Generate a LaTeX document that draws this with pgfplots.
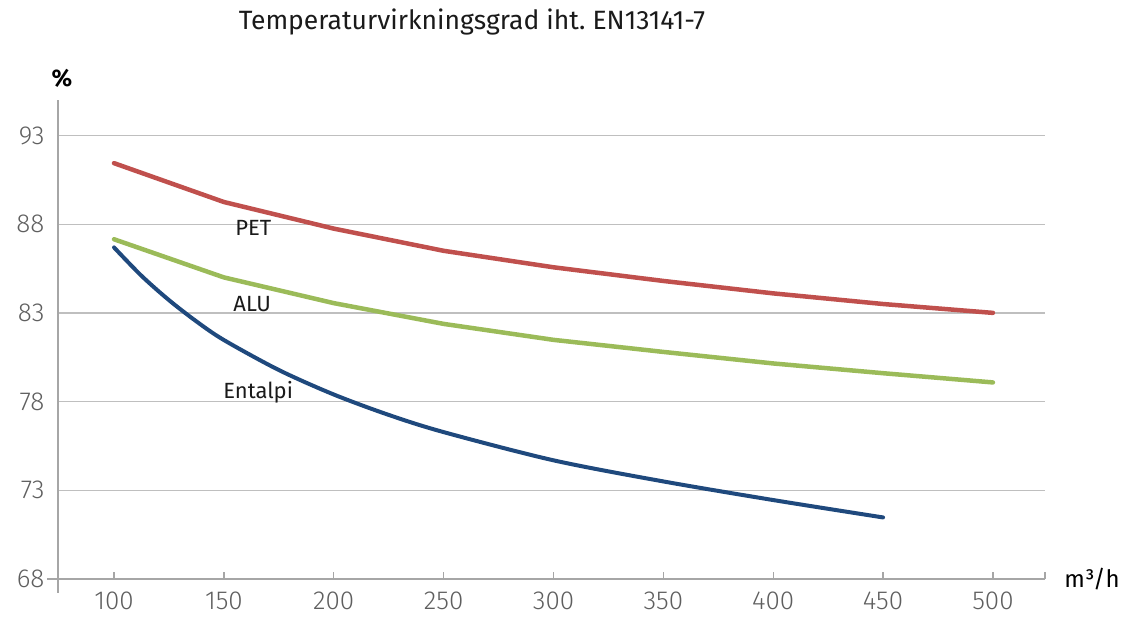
\documentclass[border=0pt]{standalone}
\usepackage{fontspec}
\setmainfont{Fira Sans}
\newfontfamily\ticklight{Fira Sans Light}
\usepackage{pgfplots}
\pgfplotsset{compat=1.18}
\definecolor{petred}{HTML}{C0504D}
\definecolor{alugreen}{HTML}{9BBB59}
\definecolor{entblue}{HTML}{1F497D}
\definecolor{gridgray}{HTML}{BFBFBF}
\definecolor{axgray}{HTML}{A6A6A6}
\definecolor{labgray}{HTML}{5F5F5F}
\definecolor{txt}{HTML}{1A1A1A}
\begin{document}
\begin{tikzpicture}
\useasboundingbox (-58pt,-37pt) rectangle (1069pt,579pt);
\begin{axis}[
  at={(0pt,0pt)}, anchor=south west,
  scale only axis, width=987pt, height=479pt,
  xmin=74.5, xmax=523.7, ymin=68, ymax=95,
  axis x line=bottom, axis y line=left,
  axis line style={-, axgray, line width=1.3pt},
  xtick={100,150,...,500},
  extra x ticks={523.7}, extra x tick labels={},
  ytick={68,73,78,83,88,93},
  ymajorgrids,
  grid style={gridgray, line width=1.3pt},
  tick align=inside,
  major tick length=7pt,
  xtick style={axgray, line width=1.3pt},
  ytick style={draw=none},
  /pgf/number format/assume math mode=true,
  /pgf/number format/set thousands separator={},
  xticklabel style={font=\ticklight\fontsize{26}{30}\selectfont, text=labgray, yshift=-9pt},
  yticklabel style={font=\ticklight\fontsize{26}{30}\selectfont, text=labgray, xshift=-10pt},
  clip=false,
]
\addplot[petred, line width=4.5pt, line join=round, line cap=round] coordinates {
(100,91.44) (150,89.25) (200,87.75) (250,86.5) (300,85.57) (350,84.8) (400,84.1) (450,83.5) (500,83.0)};
\addplot[alugreen, line width=4.5pt, line join=round, line cap=round] coordinates {
(100,87.15) (150,85.0) (200,83.55) (250,82.38) (300,81.48) (350,80.8) (400,80.15) (450,79.6) (500,79.08)};
\addplot[entblue, line width=4pt, line join=round, line cap=round, smooth] coordinates {
(100,86.69) (112.5,85.09) (125,83.72) (137.5,82.52) (150,81.47) (175,79.78) (200,78.4) (225,77.25) (250,76.28) (300,74.69) (350,73.5) (400,72.45) (450,71.47)};
\draw[axgray, line width=1.3pt] (axis cs:74.5,68) -- ++(-11pt,0pt);
\draw[axgray, line width=1.3pt] (axis cs:74.5,68) -- ++(0pt,-14pt);
\node[font=\fontsize{22}{26}\selectfont, text=txt] at (axis cs:163.4,87.8) {PET};
\node[font=\fontsize{22}{26}\selectfont, text=txt] at (axis cs:162.9,83.5) {ALU};
\node[font=\fontsize{22}{26}\selectfont, text=txt] at (axis cs:165.6,78.5) {Entalpi};
\end{axis}
\node[font=\fontsize{26.5}{30}\selectfont, text=txt] at (414pt,557pt) {Temperaturvirkningsgrad iht.\ EN13141-7};
\node[font=\fontsize{24}{28}\selectfont\bfseries, text=black] at (4pt,501pt) {\%};
\node[font=\fontsize{24}{28}\selectfont, text=black] at (1034pt,0pt) {m³/h};
\end{tikzpicture}
\end{document}
